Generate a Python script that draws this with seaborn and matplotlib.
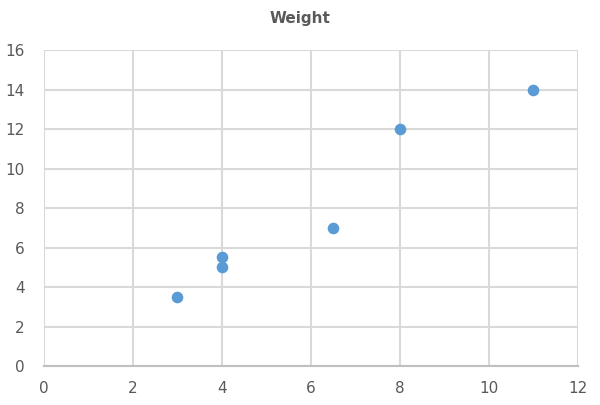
import matplotlib
matplotlib.use("Agg")
import matplotlib.pyplot as plt
import seaborn as sns
import pandas as pd

x_vals = [3, 4, 4, 6.5, 8, 11]
y_vals = [3.5, 5, 5.5, 7, 12, 14]
x_ticks = [0, 2, 4, 6, 8, 10, 12]
y_ticks = [0, 2, 4, 6, 8, 10, 12, 14, 16]

df = pd.DataFrame({"x": x_vals, "y": y_vals})

sns.set_style("white")
plt.rcParams["font.family"] = ["DejaVu Sans"]

fig = plt.figure(figsize=(6, 4.05), dpi=100)
ax = fig.add_axes([0.0733, 0.0963, 0.89, 0.78])

sns.scatterplot(data=df, x="x", y="y", ax=ax, color="#5B9BD5", s=70,
                edgecolor="#5B9BD5", linewidth=0, zorder=3)

ax.set_xlim(0, 12)
ax.set_ylim(0, 16)
ax.set_xticks(x_ticks)
ax.set_yticks(y_ticks)
ax.grid(True, color="#d9d9d9", linewidth=1.5)
ax.set_axisbelow(True)
for side in ["top", "right", "left"]:
    ax.spines[side].set_visible(False)
ax.spines["bottom"].set_color("#bfbfbf")
ax.spines["bottom"].set_linewidth(1.5)
ax.tick_params(axis="both", length=0, labelsize=11, labelcolor="#595959")
ax.tick_params(axis="x", pad=11)
ax.tick_params(axis="y", pad=14)
ax.set_xlabel("")
ax.set_ylabel("")
fig.text(0.5, 0.955, "Weight", ha="center", va="center", fontsize=11,
         fontweight="bold", color="#595959")

fig.savefig("out.png", dpi=100)
